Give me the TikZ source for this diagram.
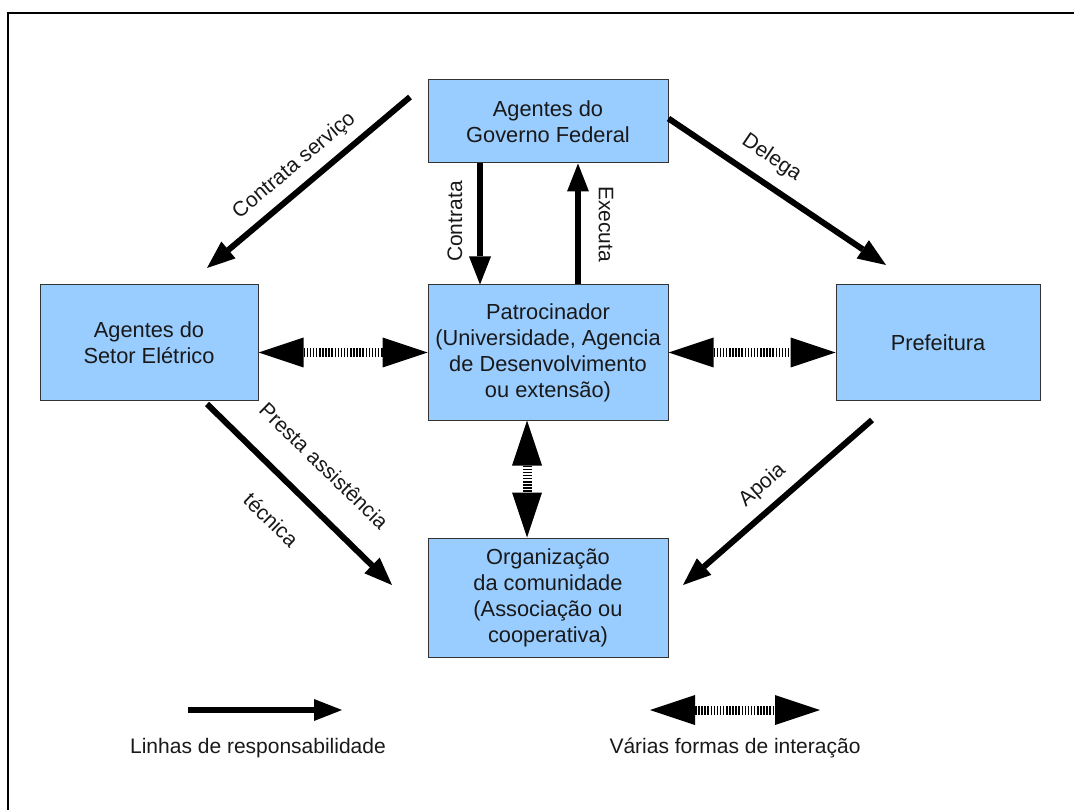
\documentclass[tikz,border=0pt]{standalone}
\usepackage{fontspec}
\setmainfont{Liberation Sans}
\usetikzlibrary{arrows.meta}
\definecolor{boxblue}{HTML}{99CCFF}
\definecolor{boxline}{HTML}{333333}
\begin{document}
\begin{tikzpicture}[x=1pt,y=1pt,
  font=\fontsize{21}{25}\selectfont,
  box/.style={draw=boxline, line width=1pt, fill=boxblue, align=center, inner sep=0pt,
    text=black!90, font=\fontsize{21.8}{26}\selectfont},
  resp/.style={line width=6pt, -{Triangle[length=28pt,width=22pt,line width=0pt]}},
  inter/.style={line width=9pt, dash pattern=on 1.5pt off 1.6pt,
    {Triangle[length=45pt,width=30pt,line width=0pt]}-{Triangle[length=45pt,width=30pt,line width=0pt]}},
  lbl/.style={text=black!90, inner sep=0pt}]
\useasboundingbox (0,0) rectangle (1074,-810);
\fill[white] (0,0) rectangle (1074,-810);
% frame
\draw[line width=2.5pt] (8,-810) |- (1074,-13);

% boxes
\node[box, minimum width=240pt, minimum height=83pt] (gov) at (548,-121.5) {Agentes do\\Governo Federal};
\node[box, minimum width=218pt, minimum height=115pt] (setor) at (149,-342.5) {Agentes do\\Setor Elétrico};
\node[box, minimum width=240pt, minimum height=135pt] (pat) at (548,-352.5) {Patrocinador\\(Universidade, Agencia\\de Desenvolvimento\\ou extensão)};
\node[box, minimum width=204pt, minimum height=115pt] (pref) at (938,-342.5) {Prefeitura};
\node[box, minimum width=240pt, minimum height=119pt] (org) at (548,-597.5) {Organização\\da comunidade\\(Associação ou\\cooperativa)};

% free ends of the diagonal arrows
\coordinate (cs1) at (410,-97);
\coordinate (cs2) at (207,-268);
\coordinate (dl2) at (886,-265);
\coordinate (pa1) at (207,-404);
\coordinate (pa2) at (392,-585);
\coordinate (ap1) at (872,-420);
\coordinate (ap2) at (683,-585);

% lines of responsibility
\draw[resp] (cs1) -- (cs2) node[lbl, midway, sloped, above=9pt] {Contrata serviço};
\draw[resp] ([yshift=3pt]gov.east) -- (dl2) node[lbl, pos=0.41, sloped, above=12pt] {Delega};
\draw[resp] ([xshift=-68pt]gov.south) -- ([xshift=-68pt]pat.north)
  node[lbl, pos=0.48, xshift=-25pt, rotate=90] {Contrata};
\draw[resp] ([xshift=30pt]pat.north) -- ([xshift=30pt]gov.south)
  node[lbl, pos=0.5, xshift=28pt, rotate=-90] {Executa};
\draw[resp] (pa1) -- (pa2)
  node[lbl, pos=0.49, sloped, above=27pt] {Presta assistência}
  node[lbl, pos=0.49, sloped, below=27pt] {técnica};
\draw[resp] (ap1) -- (ap2) node[lbl, pos=0.5, sloped, above=10pt] {Apoia};

% interactions
\draw[inter] (setor.east |- pat.center) -- (pat.west);
\draw[inter] (pat.east) -- (pref.west |- pat.center);
\draw[inter] ([xshift=-21pt]pat.south) -- ([xshift=-21pt]org.north);

% legend
\coordinate (l1a) at (188,-710);
\coordinate (l1b) at (342,-710);
\coordinate (l2a) at (650,-710);
\coordinate (l2b) at (820,-710);
\draw[resp] (l1a) -- (l1b);
\draw[inter] (l2a) -- (l2b);
\node[lbl] (leg1) at (258,-748) {Linhas de responsabilidade};
\node[lbl] (leg2) at (735,-748) {Várias formas de interação};
\end{tikzpicture}
\end{document}
